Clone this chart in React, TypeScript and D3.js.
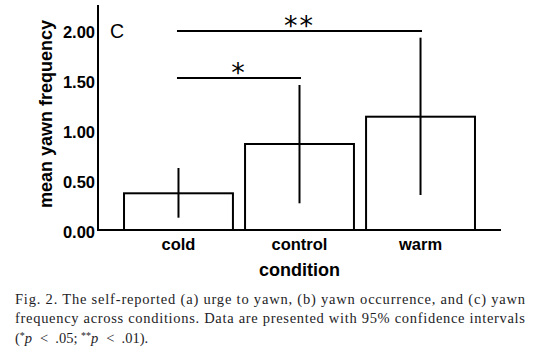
import React from "react";
import * as d3 from "d3";

const categories = ["cold", "control", "warm"];
const means = [0.367, 0.86, 1.133];
const ciLower = [0.123, 0.267, 0.35];
const ciUpper = [0.62, 1.45, 1.923];
const yTicks = [0, 0.5, 1.0, 1.5, 2.0];
const brackets = [
  { from: "cold", to: "control", level: 1.52, label: "*" },
  { from: "cold", to: "warm", level: 1.99, label: "**" },
];
const captionLines = [
  "Fig. 2. The self-reported (a) urge to yawn, (b) yawn occurrence, and (c) yawn",
  "frequency across conditions. Data are presented with 95% confidence intervals",
];

const W = 538;
const H = 359;
const sans = "'Liberation Sans', Arial, sans-serif";
const serif = "'Liberation Serif', 'Times New Roman', serif";
const capColor = "#1d1d26";

export default function App() {
  const x = d3
    .scaleBand<string>()
    .domain(categories)
    .range([98, 501])
    .paddingInner(0.1)
    .paddingOuter(0.215);
  const y = d3.scaleLinear().domain([0, 2.25]).range([230, 5]);
  const cx = (c: string) => (x(c) as number) + x.bandwidth() / 2;

  return (
    <svg
      width={W}
      height={H}
      style={{ position: "absolute", left: 0, top: 0, background: "#fff" }}
    >
      <rect x={0} y={0} width={W} height={H} fill="#fff" />
      {/* bars */}
      {categories.map((c, i) => (
        <rect
          key={c}
          x={x(c)}
          y={y(means[i])}
          width={x.bandwidth()}
          height={y(0) - y(means[i])}
          fill="#fff"
          stroke="#000"
          strokeWidth={2}
        />
      ))}
      {/* error bars */}
      {categories.map((c, i) => (
        <line
          key={c + "e"}
          x1={cx(c)}
          x2={cx(c)}
          y1={y(ciUpper[i])}
          y2={y(ciLower[i])}
          stroke="#000"
          strokeWidth={2}
        />
      ))}
      {/* axes */}
      <line x1={98} x2={98} y1={y(2.25)} y2={y(0)} stroke="#000" strokeWidth={2} />
      <line x1={97} x2={x.range()[1]} y1={y(0)} y2={y(0)} stroke="#000" strokeWidth={2} />
      {yTicks.map((t) => (
        <text
          key={t}
          x={95}
          y={y(t) + 2}
          textAnchor="end"
          dominantBaseline="central"
          fontFamily={sans}
          fontWeight="bold"
          fontSize={16.5}
          fill="#000"
        >
          {t.toFixed(2)}
        </text>
      ))}
      {categories.map((c) => (
        <text
          key={c + "l"}
          x={cx(c)}
          y={250}
          textAnchor="middle"
          fontFamily={sans}
          fontWeight="bold"
          fontSize={16.5}
          fill="#000"
        >
          {c}
        </text>
      ))}
      <text
        x={cx("control")}
        y={276}
        textAnchor="middle"
        fontFamily={sans}
        fontWeight="bold"
        fontSize={18}
        fill="#000"
      >
        condition
      </text>
      <text
        transform={`translate(52,114) rotate(-90)`}
        textAnchor="middle"
        fontFamily={sans}
        fontWeight="bold"
        fontSize={18}
        fill="#000"
      >
        mean yawn frequency
      </text>
      <text x={110} y={38} fontFamily={sans} fontSize={19.5} fill="#000">
        C
      </text>
      {/* significance brackets */}
      {brackets.map((b) => {
        const x1 = cx(b.from) - 1.5;
        const x2 = cx(b.to) + 1.5;
        return (
          <g key={b.label}>
            <line x1={x1} x2={x2} y1={y(b.level)} y2={y(b.level)} stroke="#000" strokeWidth={2} />
            <text
              x={(x1 + x2) / 2}
              y={y(b.level) + 4}
              textAnchor="middle"
              fontFamily="'DejaVu Sans', sans-serif"
              fontSize={27}
              letterSpacing={2}
              fill="#000"
            >
              {b.label}
            </text>
          </g>
        );
      })}
      {/* caption */}
      {captionLines.map((l, i) => (
        <text
          key={i}
          x={15}
          y={303.5 + i * 19.5}
          fontFamily={serif}
          fontSize={14.5}
          textLength={510}
          lengthAdjust="spacing"
          fill={capColor}
        >
          {l}
        </text>
      ))}
      <text x={15} y={342.5} fontFamily={serif} fontSize={14.5} fill={capColor}>
        <tspan>(</tspan>
        <tspan fontSize={10} dy={-4}>*</tspan>
        <tspan fontStyle="italic" dy={4}>p</tspan>
        <tspan dx={8}>{"<"}</tspan>
        <tspan dx={7}>{".05; "}</tspan>
        <tspan fontSize={10} dy={-4}>**</tspan>
        <tspan fontStyle="italic" dy={4}>p</tspan>
        <tspan dx={8}>{"<"}</tspan>
        <tspan dx={7}>{".01)."}</tspan>
      </text>
    </svg>
  );
}
